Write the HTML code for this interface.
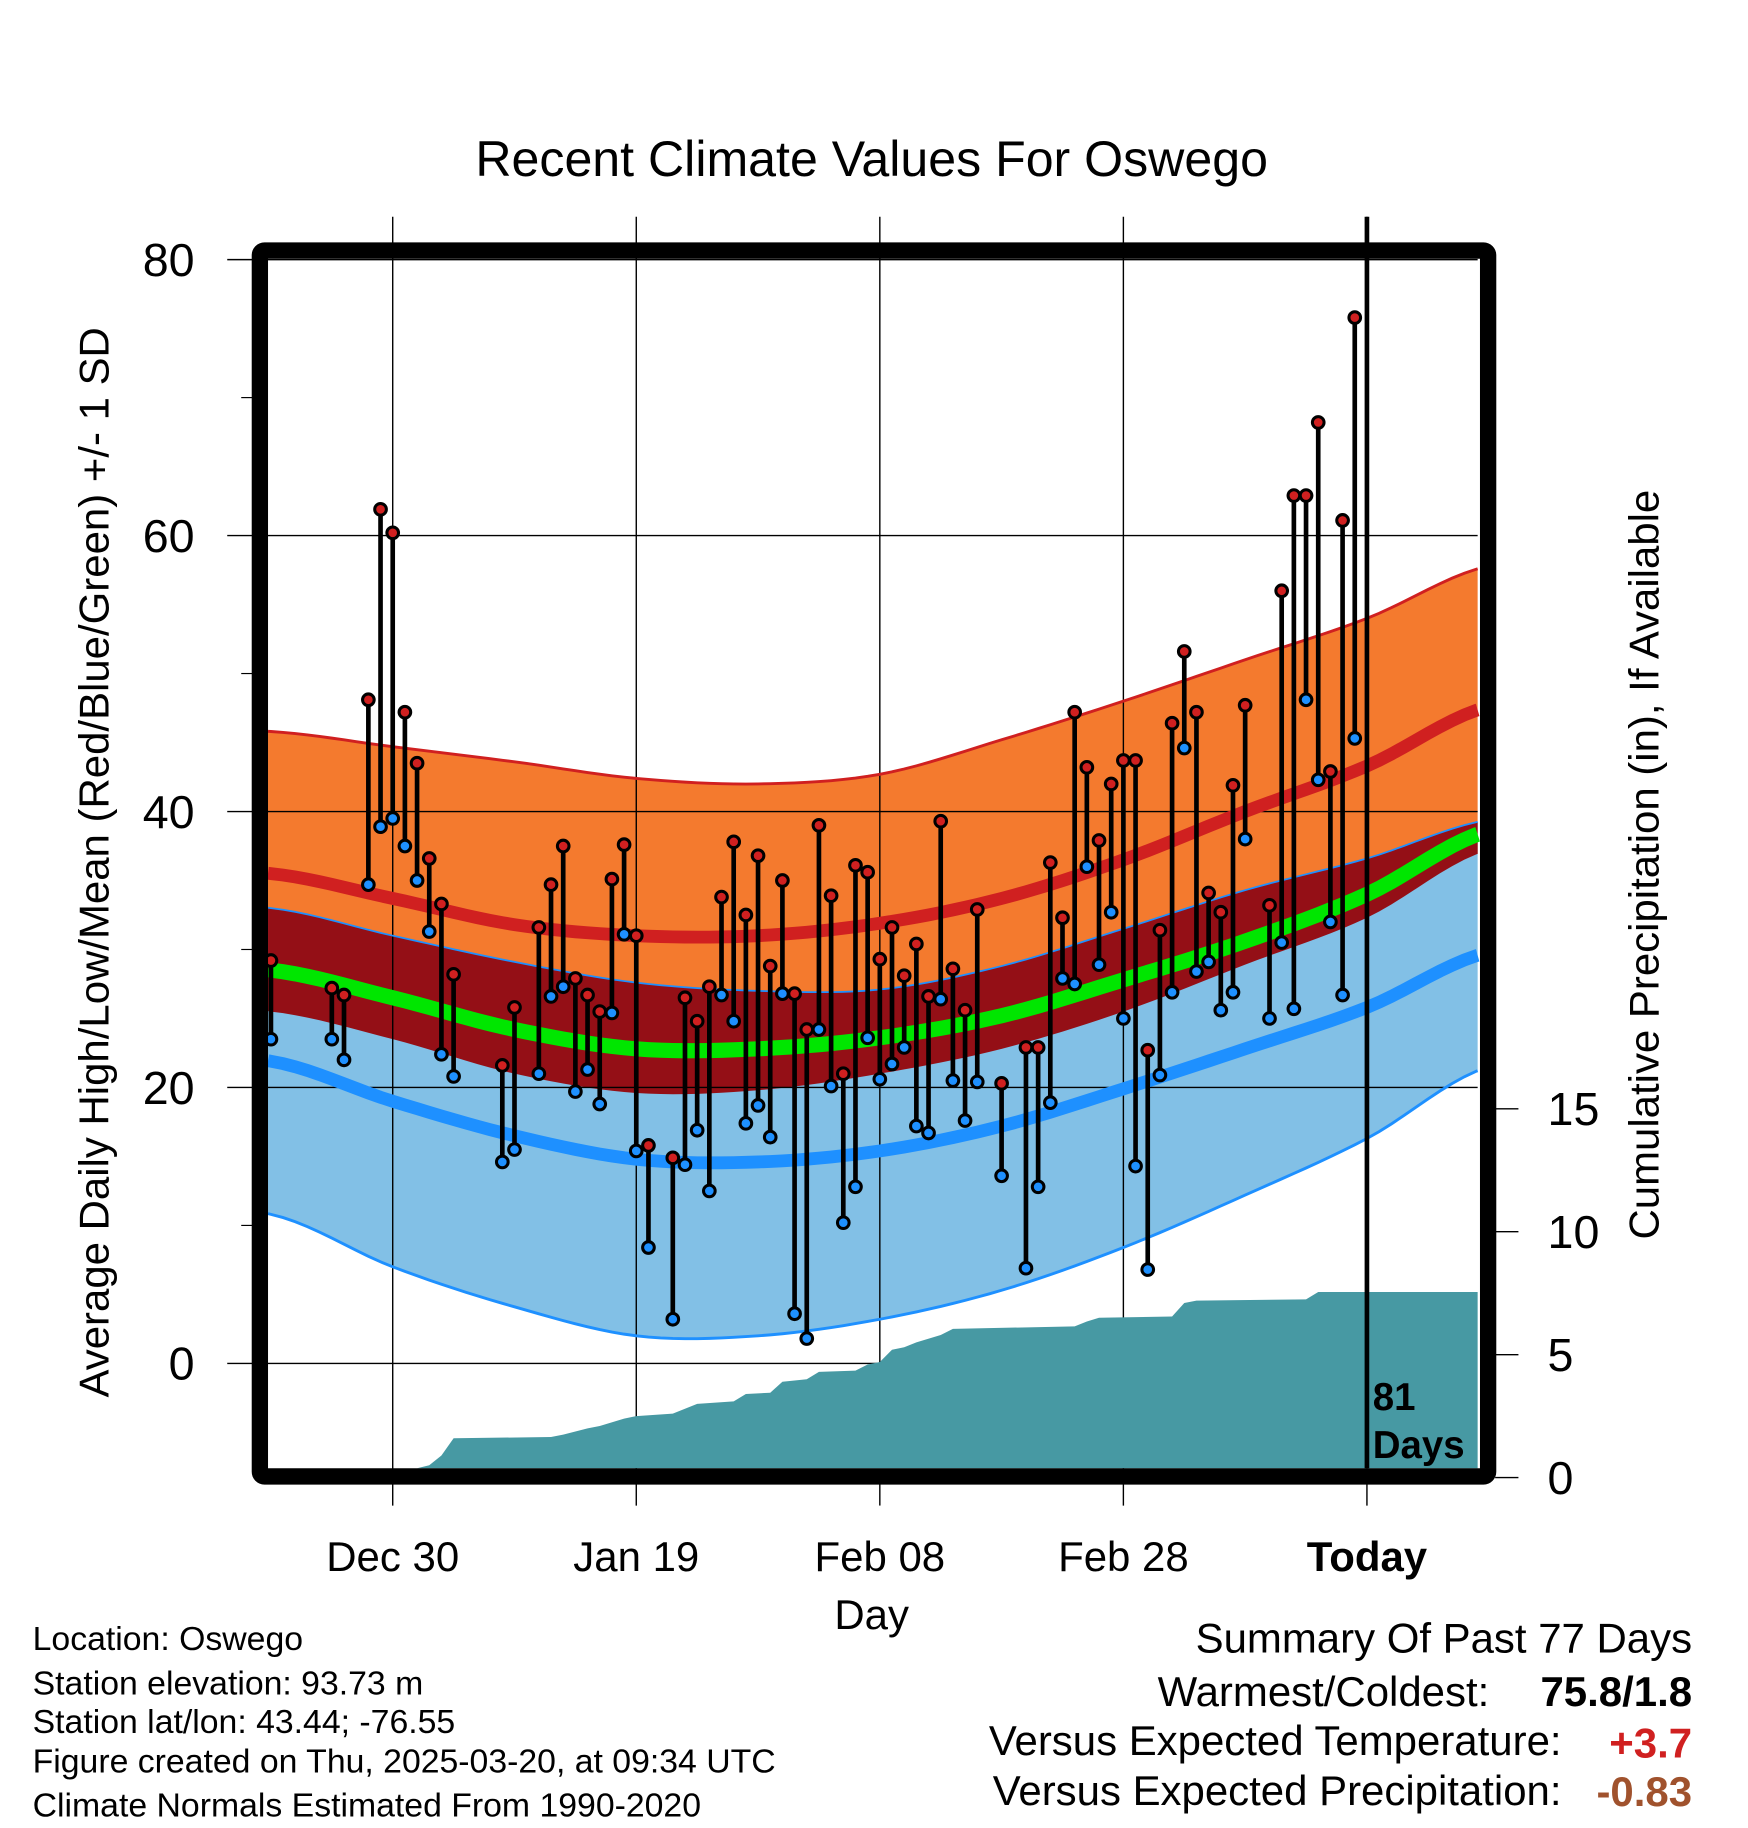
<!DOCTYPE html>
<html><head><meta charset="utf-8"><style>
html,body{margin:0;padding:0;background:#fff;}
svg{display:block;font-family:"Liberation Sans",Arial,sans-serif;}
</style></head><body>
<svg id="chart" width="1748" height="1828" viewBox="0 0 1500 1568.7" preserveAspectRatio="none" xmlns="http://www.w3.org/2000/svg">
<rect x="0" y="0" width="1500" height="1568.7" fill="#fff"/>
<g id="bands"></g>
<g id="grid"></g>
<g id="precip"></g>
<g id="lines"></g>
<g id="marks"></g>
<g id="frame"></g>
<g id="texts">
<text x="748" y="151" font-size="43" text-anchor="middle">Recent Climate Values For Oswego</text>
<text transform="translate(93,740) rotate(-90)" font-size="36" text-anchor="middle">Average Daily High/Low/Mean (Red/Blue/Green) +/- 1 SD</text>
<text transform="translate(1423,742) rotate(-90)" font-size="36" text-anchor="middle">Cumulative Precipitation (in), If Available</text>
<text x="748" y="1398" font-size="36" text-anchor="middle">Day</text>
<text x="1178" y="1210" font-size="33" font-weight="bold">81</text>
<text x="1178" y="1251" font-size="33" font-weight="bold">Days</text>
<g font-size="29">
<text x="28" y="1416">Location: Oswego</text>
<text x="28" y="1454">Station elevation: 93.73 m</text>
<text x="28" y="1487">Station lat/lon: 43.44; -76.55</text>
<text x="28" y="1521">Figure created on Thu, 2025-03-20, at 09:34 UTC</text>
<text x="28" y="1559">Climate Normals Estimated From 1990-2020</text>
</g>
<g font-size="36">
<text x="1452" y="1418" text-anchor="end">Summary Of Past 77 Days</text>
<text x="1278" y="1464" text-anchor="end">Warmest/Coldest:</text>
<text x="1452" y="1464" text-anchor="end" font-weight="bold">75.8/1.8</text>
<text x="1340" y="1506" text-anchor="end">Versus Expected Temperature:</text>
<text x="1452" y="1508" text-anchor="end" font-weight="bold" fill="#d02020">+3.7</text>
<text x="1340" y="1549" text-anchor="end">Versus Expected Precipitation:</text>
<text x="1452" y="1550" text-anchor="end" font-weight="bold" fill="#a0522d">-0.83</text>
</g>
</g>
</svg>
<script>
// ---- data ----
const days = [0,5,6,8,9,10,11,12,13,14,15,19,20,22,23,24,25,26,27,28,29,30,31,33,34,35,36,37,38,39,40,41,42,43,44,45,46,47,48,49,50,51,52,53,54,55,56,57,58,60,62,63,64,65,66,67,68,69,70,71,72,73,74,75,76,77,78,79,80,82,83,84,85,86,87,88,89];
const highs = [29.2,27.2,26.7,48.1,61.9,60.2,47.2,43.5,36.6,33.3,28.2,21.6,25.8,31.6,34.7,37.5,27.9,26.7,25.5,35.1,37.6,31.0,15.8,14.9,26.5,24.8,27.3,33.8,37.8,32.5,36.8,28.8,35.0,26.8,24.2,39.0,33.9,21.0,36.1,35.6,29.3,31.6,28.1,30.4,26.6,39.3,28.6,25.6,32.9,20.3,22.9,22.9,36.3,32.3,47.2,43.2,37.9,42.0,43.7,43.7,22.7,31.4,46.4,51.6,47.2,34.1,32.7,41.9,47.7,33.2,56.0,62.9,62.9,68.2,42.9,61.1,75.8];
const lows = [23.5,23.5,22.0,34.7,38.9,39.5,37.5,35.0,31.3,22.4,20.8,14.6,15.5,21.0,26.6,27.3,19.7,21.3,18.8,25.4,31.1,15.4,8.4,3.2,14.4,16.9,12.5,26.7,24.8,17.4,18.7,16.4,26.8,3.6,1.8,24.2,20.1,10.2,12.8,23.6,20.6,21.7,22.9,17.2,16.7,26.4,20.5,17.6,20.4,13.6,6.9,12.8,18.9,27.9,27.5,36.0,28.9,32.7,25.0,14.3,6.8,20.9,26.9,44.6,28.4,29.1,25.6,26.9,38.0,25.0,30.5,25.7,48.1,42.3,32.0,26.7,45.3];
const normDays = [0,10,20,30,40,50,60,70,80,90,100];
const highPlusSD = [45.8,44.7,43.6,42.4,42.0,42.7,45.2,48.0,51.0,54.0,57.8];
const highMean = [35.5,33.7,31.8,31.0,31.0,31.9,33.7,36.5,40.0,43.3,47.6];
const lowPlusSD = [33.0,31.0,29.1,27.6,27.0,27.1,28.8,31.5,34.3,36.6,39.4];
const highMinusSD = [25.5,23.5,21.0,19.6,19.8,21.0,22.8,25.5,28.9,32.3,37.2];
const meanTemp = [28.5,26.5,24.2,22.8,22.8,23.6,25.2,27.8,30.6,34.0,38.6];
const lowMean = [21.9,19.0,16.5,14.8,14.6,15.4,17.2,19.9,22.8,25.8,29.8];
const lowMinusSD = [10.8,7.0,4.1,2.0,2.0,3.2,5.3,8.4,12.2,16.3,21.5];
const precipDays = [11.4,12,13,14,15,23,24,26,27,29,30,33,35,38,39,41,42,44,45,48,49,50,51,52,53,55,56,66,67,68,74,75,76,85,86,99.5];
const precipVals = [0,0.2,0.5,0.9,1.6,1.65,1.75,2.0,2.1,2.4,2.5,2.6,3.0,3.1,3.4,3.45,3.9,4.0,4.3,4.35,4.6,4.7,5.2,5.3,5.5,5.8,6.05,6.15,6.35,6.5,6.55,7.1,7.2,7.25,7.55,7.55];
const yTicks = [0,20,40,60,80];
const yMinor = [10,30,50,70];
const pTicks = [0,5,10,15];
const xTickDays = [10,30,50,70,90];
const xTickLabels = ["Dec 30","Jan 19","Feb 08","Feb 28","Today"];
// ---- scales ----
const L=230,R=1268,T=222,B=1260;
const xS = d => 232.5 + d*10.45;
const yS = v => 1170 - v*11.84;
const pS = p => 1268 - p*21.1;
const NS='http://www.w3.org/2000/svg';
function mk(tag, attrs, parent){const e=document.createElementNS(NS,tag);for(const k in attrs)e.setAttribute(k,attrs[k]);parent.appendChild(e);return e;}
function curve(vals){
  const pts=[];const n=normDays.length;
  for(let i=0;i<n-1;i++){
    const p0=vals[Math.max(i-1,0)],p1=vals[i],p2=vals[i+1],p3=vals[Math.min(i+2,n-1)];
    const d1=normDays[i],d2=normDays[i+1];
    for(let s=0;s<10;s++){const t=s/10;
      const v=0.5*((2*p1)+(-p0+p2)*t+(2*p0-5*p1+4*p2-p3)*t*t+(-p0+3*p1-3*p2+p3)*t*t*t);
      pts.push([xS(d1+(d2-d1)*t),yS(v)]);}
  }
  pts.push([xS(normDays[n-1]),yS(vals[n-1])]);
  const out=[];
  // prepend left edge point
  const a=pts[0],b=pts[1];
  out.push([L,a[1]+(b[1]-a[1])*(L-a[0])/(b[0]-a[0])]);
  pts.forEach(p=>{if(p[0]>=L&&p[0]<=R)out.push(p);});
  const m=pts.findIndex(p=>p[0]>R);
  if(m>0){const c=pts[m-1],d=pts[m];out.push([R,c[1]+(d[1]-c[1])*(R-c[0])/(d[0]-c[0])]);}
  return out;
}
function band(top,bot,fill,g,name){
  const a=curve(top),b=curve(bot).reverse();
  const e=mk('polygon',{points:a.concat(b).map(p=>p.join(',')).join(' '),fill:fill},g);
  
  
}
function line(vals,color,w,g,name){
  const e=mk('polyline',{points:curve(vals).map(p=>p.join(',')).join(' '),fill:'none',stroke:color,'stroke-width':w},g);
  
  
}
const gb=document.getElementById('bands');
band(highPlusSD,highMinusSD,'#f47a2e',gb,'high-sd-band');
band(lowPlusSD,lowMinusSD,'#82c0e6',gb,'low-sd-band');
band(lowPlusSD,highMinusSD,'#940f16',gb,'overlap-band');
// grid
const gg=document.getElementById('grid');
yTicks.forEach(v=>{
  const xe = v===0 ? xS(50) : R;
  mk('line',{x1:195,x2:xe,y1:yS(v),y2:yS(v),stroke:'#000','stroke-width':1.2},gg);
  const t=mk('text',{x:167,y:yS(v)+14,'font-size':40,'text-anchor':'end'},gg);t.textContent=v;
  
  
});
yMinor.forEach(v=>mk('line',{x1:207,x2:217,y1:yS(v),y2:yS(v),stroke:'#000','stroke-width':1},gg));
xTickDays.forEach((d,i)=>{
  const ye = d===50 ? yS(0) : 1292;
  mk('line',{x1:xS(d),x2:xS(d),y1:186,y2:ye,stroke:'#000','stroke-width':1.2},gg);
  if(d===50) mk('line',{x1:xS(d),x2:xS(d),y1:1262,y2:1292,stroke:'#000','stroke-width':1.2},gg);
  const t=mk('text',{x:xS(d),y:1348,'font-size':36,'text-anchor':'middle','font-weight':d===90?'bold':'normal'},gg);t.textContent=xTickLabels[i];
  
  
});
pTicks.forEach(p=>{
  mk('line',{x1:1283,x2:1303,y1:pS(p),y2:pS(p),stroke:'#000','stroke-width':1.2},gg);
  const t=mk('text',{x:1328,y:pS(p)+14,'font-size':40},gg);t.textContent=p;
  
  
});
// precip
const gp=document.getElementById('precip');
let pp=[[xS(precipDays[0]),B]];
precipDays.forEach((d,i)=>pp.push([Math.min(R,xS(d)),Math.min(B,pS(precipVals[i]))]));
pp.push([R,B]);
const pe=mk('polygon',{points:pp.map(p=>p.join(',')).join(' '),fill:'#4799a3'},gp);


// lines
const gl=document.getElementById('lines');
line(lowPlusSD,'#1e90ff',1.5,gl,'low-plus-sd-line');
line(highPlusSD,'#d02020',2.5,gl,'high-plus-sd-line');
line(lowMinusSD,'#1e90ff',2.5,gl,'low-minus-sd-line');
line(highMean,'#d02020',11,gl,'mean-high-line');
line(lowMean,'#1e90ff',11,gl,'mean-low-line');
line(meanTemp,'#00e600',13,gl,'mean-temp-line');
mk('line',{x1:xS(90),x2:xS(90),y1:186,y2:B,stroke:'#000','stroke-width':4},gl);
// marks
const gm=document.getElementById('marks');
days.forEach((d,i)=>{
  const x=xS(d);
  const ln=mk('line',{x1:x,x2:x,y1:yS(highs[i]),y2:yS(lows[i]),stroke:'#000','stroke-width':4},gm);
  
  
  const c1=mk('circle',{cx:x,cy:yS(highs[i]),r:5,fill:'#d02020',stroke:'#000','stroke-width':2.6},gm);
  
  
  const c2=mk('circle',{cx:x,cy:yS(lows[i]),r:5,fill:'#1e90ff',stroke:'#000','stroke-width':2.6},gm);
  
  
});
// frame
const gf=document.getElementById('frame');
mk('rect',{x:223,y:215,width:1054,height:1052,fill:'none',stroke:'#000','stroke-width':14,rx:4},gf);
</script>
</body></html>
